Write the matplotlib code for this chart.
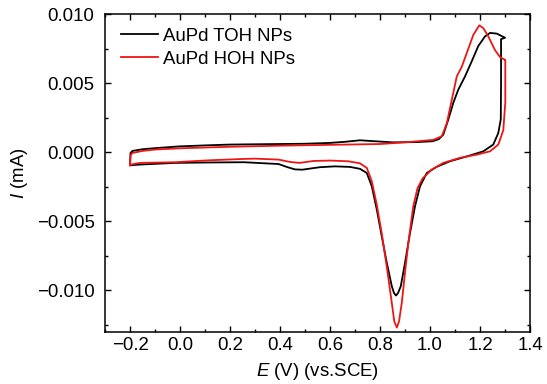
import matplotlib
matplotlib.use("Agg")
import matplotlib.pyplot as plt
from matplotlib.ticker import MultipleLocator, FuncFormatter

plt.rcParams["font.family"] = ["Liberation Sans", "DejaVu Sans"]
plt.rcParams["mathtext.fontset"] = "custom"
plt.rcParams["mathtext.it"] = "Liberation Sans:italic"
plt.rcParams["mathtext.rm"] = "Liberation Sans"

# AuPd TOH NPs: anodic scan then cathodic scan (E in V, I in mA)
toh_e = [-0.2, -0.198, -0.19, -0.15, -0.1, 0.0, 0.1, 0.2, 0.3, 0.4, 0.5, 0.6, 0.66, 0.72,
         0.78, 0.85, 0.95, 1.01, 1.035, 1.053, 1.073, 1.093, 1.113, 1.14, 1.167, 1.193,
         1.22, 1.24, 1.267, 1.3,
         1.284, 1.284, 1.283, 1.273, 1.253, 1.213, 1.147, 1.08, 1.027, 0.987, 0.96, 0.94,
         0.92, 0.9, 0.883, 0.872, 0.864, 0.856, 0.847, 0.827, 0.807, 0.787, 0.767,
         0.747, 0.72, 0.68, 0.62, 0.56, 0.52, 0.49, 0.46, 0.43, 0.394, 0.256, 0.1,
         -0.022, -0.161, -0.2]
toh_i = [-0.00094, -0.00005, 0.0001, 0.00022, 0.0003, 0.00043, 0.0005, 0.00056, 0.00058,
         0.0006, 0.00062, 0.00068, 0.00076, 0.00087, 0.0008, 0.00072, 0.00074, 0.0008,
         0.00095, 0.00128, 0.00237, 0.00358, 0.00454, 0.0055, 0.0066, 0.0077,
         0.0084, 0.00865, 0.0086, 0.0083,
         0.0082, 0.005, 0.0024, 0.0014, 0.00056, 0.00007, -0.0003, -0.00065, -0.00105,
         -0.0015, -0.00246, -0.0039, -0.00584, -0.008, -0.0097, -0.0102, -0.01038,
         -0.0102, -0.0097, -0.008, -0.0061, -0.00415, -0.00246, -0.0015, -0.0012,
         -0.00106, -0.00102, -0.00108, -0.00118, -0.00126, -0.00124, -0.00108,
         -0.00085, -0.00072, -0.00074, -0.00077, -0.00089, -0.00094]

# AuPd HOH NPs
hoh_e = [-0.2, -0.198, -0.19, -0.15, -0.1, 0.0, 0.2, 0.4, 0.6, 0.8, 0.9, 1.013, 1.047,
         1.067, 1.087, 1.107, 1.127, 1.147, 1.173, 1.197, 1.213, 1.233, 1.26, 1.28, 1.3,
         1.301, 1.301, 1.293, 1.273, 1.24, 1.187, 1.12, 1.053, 1.007, 0.97, 0.95, 0.933,
         0.913, 0.9, 0.887, 0.876, 0.867, 0.857, 0.847, 0.827, 0.807, 0.787, 0.767,
         0.747, 0.72, 0.672, 0.6, 0.533, 0.478, 0.44, 0.394, 0.3, 0.256, 0.117, -0.022,
         -0.161, -0.2]
hoh_i = [-0.0009, -0.0002, -0.00005, 0.0001, 0.0002, 0.00029, 0.0004, 0.00048, 0.00054,
         0.0006, 0.00072, 0.0009, 0.00116, 0.0021, 0.0038, 0.0055, 0.0062, 0.0072,
         0.0085, 0.0092, 0.009, 0.0084, 0.0074, 0.0069, 0.0067,
         0.0067, 0.0036, 0.0016, 0.00056, 0.00007, -0.00017, -0.0004, -0.00077,
         -0.00125, -0.0019, -0.0026, -0.0039, -0.0066, -0.0087, -0.0109, -0.01225,
         -0.0127, -0.01225, -0.0109, -0.0083, -0.0059, -0.0038, -0.0021, -0.00113,
         -0.0008, -0.00065, -0.0006, -0.00063, -0.00077, -0.0007, -0.00053, -0.00046,
         -0.00048, -0.00058, -0.00072, -0.00077, -0.0009]

FS = 13.4

fig = plt.figure(figsize=(5.47, 3.84), dpi=100)
ax = fig.add_axes([0.192, 0.1362, 0.777, 0.8266])

ax.plot(toh_e, toh_i, color="black", lw=1.3, label="AuPd TOH NPs")
ax.plot(hoh_e, hoh_i, color="#ee1515", lw=1.3, label="AuPd HOH NPs")

ax.set_xlim(-0.3, 1.4)
ax.set_ylim(-0.013, 0.010)
ax.xaxis.set_major_locator(MultipleLocator(0.2))
ax.xaxis.set_minor_locator(MultipleLocator(0.1))
ax.yaxis.set_major_locator(MultipleLocator(0.005))
ax.yaxis.set_minor_locator(MultipleLocator(0.0025))
ax.xaxis.set_major_formatter(FuncFormatter(lambda v, p: f"{v:.1f}".replace("-", "\u2212")))
ax.yaxis.set_major_formatter(FuncFormatter(lambda v, p: f"{v:.3f}".replace("-", "\u2212")))
ax.tick_params(which="both", direction="in", top=True, right=True, labelsize=FS, width=1)
ax.tick_params(which="major", length=4)
ax.tick_params(which="minor", length=2.5)
ax.tick_params(axis="x", which="major", pad=4)
ax.tick_params(axis="y", which="major", pad=7.5)
for s in ax.spines.values():
    s.set_linewidth(1.1)

ax.set_xlabel("$E$ (V) (vs.SCE)", fontsize=FS, labelpad=5)
ax.set_ylabel("$I$ (mA)", fontsize=FS, labelpad=5)

ax.legend(loc="upper left", bbox_to_anchor=(0.037, 0.957), frameon=False, fontsize=FS,
          handlelength=2.0, handletextpad=0.25, borderpad=0, borderaxespad=0,
          labelspacing=0.3)

fig.savefig("out.png", dpi=100)
